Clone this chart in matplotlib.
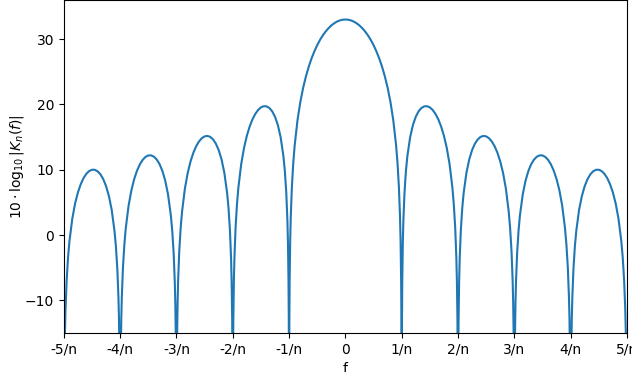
import numpy as np
import matplotlib
matplotlib.use("Agg")
from matplotlib import pyplot as plt

# positions inside one side lobe, in units of 1/n (0 = left zero, 1 = right zero)
lobe_offsets = [0, 0.005, 0.01, 0.02, 0.03, 0.05, 0.075, 0.1,
                0.15, 0.2, 0.25, 0.3, 0.35, 0.4, 0.45, 0.5, 0.55, 0.6, 0.65, 0.7, 0.75, 0.8, 0.85,
                0.9, 0.925, 0.95, 0.97, 0.98, 0.99, 0.995, 1.0]

# main lobe, from f=0 out to f=1/n
main_offsets = [0, 0.05, 0.1, 0.15, 0.2, 0.25, 0.3, 0.35, 0.4, 0.45, 0.5, 0.55, 0.6, 0.65,
                0.7, 0.75, 0.8, 0.85, 0.9, 0.925, 0.95, 0.97, 0.98, 0.99, 0.995, 1.0]
main_db = [33.01, 32.98, 32.87, 32.69, 32.43, 32.10, 31.68, 31.18, 30.59, 29.90, 29.09, 28.15, 27.07,
           25.81, 24.32, 22.56, 20.39, 17.62, 13.78, 11.11, 7.40, 2.81, -0.80, -6.90, -12.97, -40]

# side lobes on the right side (the picture is symmetric); the zeros go far below the axis
lobe1_db = [-40, -13.06, -7.08, -1.15, 2.28, 6.53, 9.80, 12.04, 14.99, 16.87, 18.12, 18.95, 19.46,
            19.71, 19.73, 19.55, 19.15, 18.55, 17.72, 16.62, 15.20, 13.35, 10.87, 7.29, 4.74, 1.15,
            -3.35, -6.91, -12.97, -19.01, -40]
lobe2_db = [-40, -19.05, -13.06, -7.08, -3.61, 0.72, 4.09, 6.42, 9.56, 11.60, 13.01, 13.99, 14.64,
            15.03, 15.18, 15.11, 14.83, 14.33, 13.60, 12.60, 11.27, 9.51, 7.11, 3.62, 1.11, -2.44,
            -6.92, -10.46, -16.50, -22.54, -40]
lobe3_db = [-40, -22.57, -16.56, -10.58, -7.09, -2.73, 0.67, 3.04, 6.24, 8.35, 9.82, 10.86, 11.56,
            12.00, 12.20, 12.19, 11.96, 11.51, 10.82, 9.86, 8.58, 6.86, 4.50, 1.05, -1.45, -4.98,
            -9.44, -12.97, -19.01, -25.04, -40]
lobe4_db = [-40, -25.06, -19.05, -13.06, -9.57, -5.20, -1.77, 0.61, 3.85, 5.99, 7.49, 8.56, 9.30,
            9.76, 9.99, 10.00, 9.80, 9.38, 8.72, 7.78, 6.52, 4.83, 2.49, -0.94, -3.42, -6.94,
            -11.39, -14.92, -20.95, -26.98, -40]

tick_pos = [-5, -4, -3, -2, -1, 0, 1, 2, 3, 4, 5]
tick_labels = ["-5/n", "-4/n", "-3/n", "-2/n", "-1/n", "0", "1/n", "2/n", "3/n", "4/n", "5/n"]

# build the right half, then mirror it
xs = list(main_offsets)
ys = list(main_db)
for k, lobe in enumerate([lobe1_db, lobe2_db, lobe3_db, lobe4_db], start=1):
    xs += [k + o for o in lobe_offsets[1:]]
    ys += lobe[1:]
xs = np.array(xs)
ys = np.array(ys)
x_all = np.concatenate([-xs[::-1], xs[1:]])
y_all = np.concatenate([ys[::-1], ys[1:]])

fig = plt.figure(figsize=(6.32, 3.72), dpi=100)
ax = fig.add_axes([0.101, 0.105, 0.891, 0.895])
ax.plot(x_all, y_all, color="#1f77b4")
ax.set_xlim(-5, 5)
ax.set_ylim(-15, 36)
ax.set_xticks(tick_pos)
ax.set_xticklabels(tick_labels)
ax.set_xlabel("f")
ax.set_ylabel(r"$10 \cdot \log_{10}|K_n(f)|$", labelpad=-1)
fig.savefig("out.png", dpi=100)
